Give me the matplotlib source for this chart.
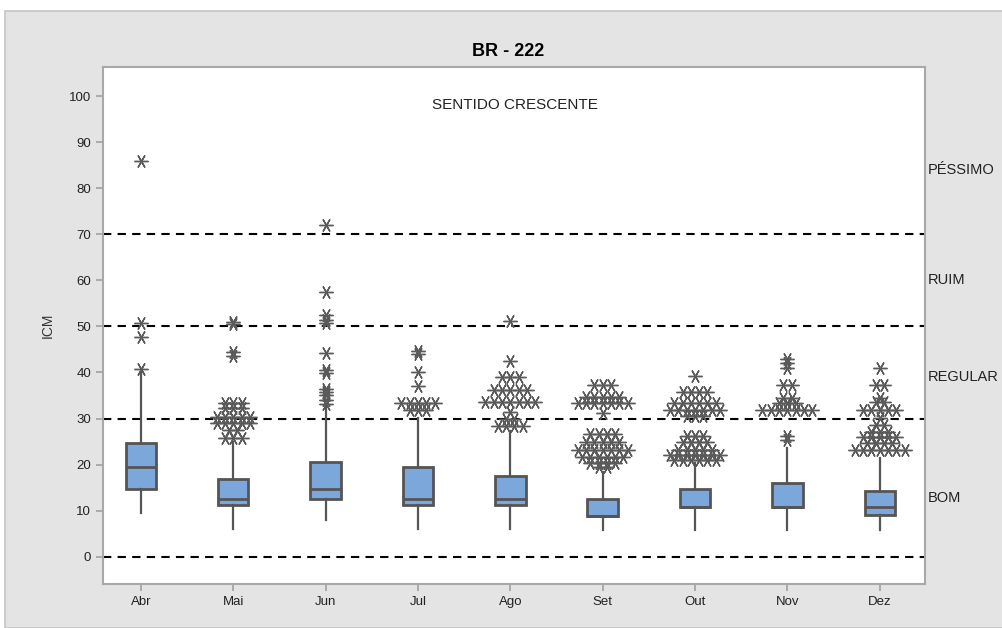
import matplotlib
matplotlib.use("Agg")
import matplotlib.pyplot as plt
from matplotlib.patches import Rectangle
from matplotlib.transforms import blended_transform_factory
from collections import Counter
import numpy as np

# ---- data ----
months = ["Abr", "Mai", "Jun", "Jul", "Ago", "Set", "Out", "Nov", "Dez"]
q1 = [14.8, 11.3, 12.6, 11.3, 11.3, 8.9, 10.8, 10.8, 9.1]
median = [19.5, 12.6, 14.75, 12.6, 12.6, 8.9, 10.8, 10.8, 10.8]
q3 = [24.6, 16.9, 20.6, 19.5, 17.6, 12.6, 14.7, 16.0, 14.3]
whisker_low = [9.5, 6.1, 8.0, 6.1, 6.1, 5.9, 5.9, 5.9, 5.9]
whisker_high = [40.0, 25.0, 32.5, 30.2, 27.2, 18.5, 20.4, 23.6, 21.5]

out_abr = [40.8, 47.8, 50.8, 86.0]
out_mai = [25.8, 25.8, 25.8, 27.5, 27.5, 29.0, 29.0, 29.0, 29.0, 29.0,
           30.4, 30.4, 30.4, 30.4, 30.4, 32.3, 32.3, 32.3, 33.4, 33.4, 33.4,
           43.5, 44.5, 50.5, 51.0]
out_jun = [33.2, 34.0, 35.2, 35.8, 36.5, 39.8, 40.5, 44.2, 50.8, 51.5,
           52.5, 57.5, 72.0]
out_jul = [31.9, 31.9, 31.9, 33.4, 33.4, 33.4, 33.4, 33.4, 37.0, 40.2,
           44.0, 44.6]
out_ago = [28.3, 28.3, 28.3, 28.3, 30.0, 30.0, 31.5,
           33.5, 33.5, 33.5, 33.5, 33.5, 33.5, 33.5,
           36.2, 36.2, 36.2, 36.2, 36.2, 39.0, 39.0, 39.0, 42.4, 51.2]
out_set = [19.5, 19.5, 20.4, 20.4, 20.4, 20.4,
           21.7, 21.7, 21.7, 21.7, 21.7, 21.7,
           23.2, 23.2, 23.2, 23.2, 23.2, 23.2, 23.2,
           25.0, 25.0, 25.0, 25.0, 25.0, 26.7, 26.7, 26.7, 26.7,
           31.2, 33.4, 33.4, 33.4, 33.4, 33.4, 33.4, 33.4,
           34.6, 34.6, 34.6, 34.6, 34.6, 37.3, 37.3, 37.3]
out_out = [21.0, 21.0, 21.0, 21.0, 21.0, 21.0,
           22.1, 22.1, 22.1, 22.1, 22.1, 22.1, 22.1,
           23.2, 23.2, 23.2, 23.2, 23.2, 25.0, 25.0, 25.0, 25.0,
           26.3, 26.3, 26.3, 30.6, 30.6, 30.6,
           31.9, 31.9, 31.9, 31.9, 31.9, 31.9, 31.9,
           33.4, 33.4, 33.4, 33.4, 33.4, 33.4,
           35.8, 35.8, 35.8, 35.8, 39.2]
out_nov = [25.4, 26.3, 31.9, 31.9, 31.9, 31.9, 31.9, 31.9, 31.9,
           33.4, 33.4, 33.4, 34.5, 34.5, 37.3, 37.3, 41.0, 42.0, 43.0]
out_dez = [23.2, 23.2, 23.2, 23.2, 23.2, 23.2, 23.2,
           24.6, 24.6, 24.6, 24.6, 25.9, 25.9, 25.9, 25.9, 25.9,
           27.1, 27.1, 27.1, 28.6, 28.6, 30.1,
           31.9, 31.9, 31.9, 31.9, 31.9, 33.6, 33.6, 34.5, 37.3, 37.3, 41.0]
outliers = [out_abr, out_mai, out_jun, out_jul, out_ago,
            out_set, out_out, out_nov, out_dez]

limits = [0, 30, 50, 70]
classes = ["BOM", "REGULAR", "RUIM", "PÉSSIMO"]
class_label_y = [12.8, 39.0, 60.0, 84.0]

# ---- figure ----
plt.rcParams["font.family"] = ["Liberation Sans", "DejaVu Sans"]
fig = plt.figure(figsize=(10.03, 6.28), dpi=100, facecolor="white")
panel = Rectangle((5 / 1003, 0), 1, (628 - 11) / 628,
                  transform=fig.transFigure, facecolor="#e4e4e4",
                  edgecolor="#c4c4c4", linewidth=1.2, zorder=-10)
fig.add_artist(panel)

ax = fig.add_axes([103 / 1003, 44 / 628, 822 / 1003, 517 / 628])
ax.set_facecolor("white")

box_color = "#7ba7da"
edge = "#555555"
stats = []
for i, m in enumerate(months):
    stats.append(dict(label=m, q1=q1[i], med=median[i], q3=q3[i],
                      whislo=whisker_low[i], whishi=whisker_high[i], fliers=[]))
pos = np.arange(1, len(months) + 1)
ax.bxp(stats, positions=pos, widths=0.33, patch_artist=True, showcaps=False,
       boxprops=dict(facecolor=box_color, edgecolor=edge, linewidth=2.0),
       medianprops=dict(color=edge, linewidth=2.0),
       whiskerprops=dict(color=edge, linewidth=1.6), zorder=3)

# outliers: tied values are laid side by side
step = 0.09
for p, vals in zip(pos, outliers):
    xs, ys = [], []
    for v, n in sorted(Counter(vals).items()):
        offs = (np.arange(n) - (n - 1) / 2) * step
        xs.extend(p + offs)
        ys.extend([v] * n)
    ax.plot(xs, ys, linestyle="none", marker=(6, 2, 90), markersize=10,
            markeredgewidth=1.0, color="#5a5a5a", zorder=4)

for lim in limits:
    ax.axhline(lim, color="black", linestyle=(0, (4, 3)), linewidth=1.5, zorder=2)

ax.set_xlim(0.59, 9.49)
ax.set_ylim(-5.9, 106.3)
ax.set_yticks(range(0, 101, 10))
ax.set_xticks(pos)
ax.set_xticklabels(months)
for s in ax.spines.values():
    s.set_color("#a8a8a8")
    s.set_linewidth(1.5)
ax.tick_params(axis="both", colors="#a0a0a0", labelcolor="#222222",
               length=5, width=1.2, labelsize=9.5)
for lbl in ax.get_xticklabels() + ax.get_yticklabels():
    lbl.set_family(["Liberation Sans Narrow", "Liberation Sans"])
ax.set_ylabel("ICM", fontsize=10, color="#333333", labelpad=10)

trans = blended_transform_factory(ax.transAxes, ax.transData)
for name, yv in zip(classes, class_label_y):
    ax.text(1.003, yv, name, transform=trans, ha="left", va="center",
            fontsize=10.5, color="#222222", clip_on=False)

ax.text(0.501, 98, "SENTIDO CRESCENTE", transform=trans, ha="center",
        va="center", fontsize=11, color="#222222")
fig.text(508 / 1003, (628 - 52) / 628, "BR - 222", ha="center", va="center",
         fontsize=13, fontweight="bold",
         family=["Liberation Sans Narrow", "Liberation Sans"])

fig.savefig("out.png", dpi=100, facecolor=fig.get_facecolor())
